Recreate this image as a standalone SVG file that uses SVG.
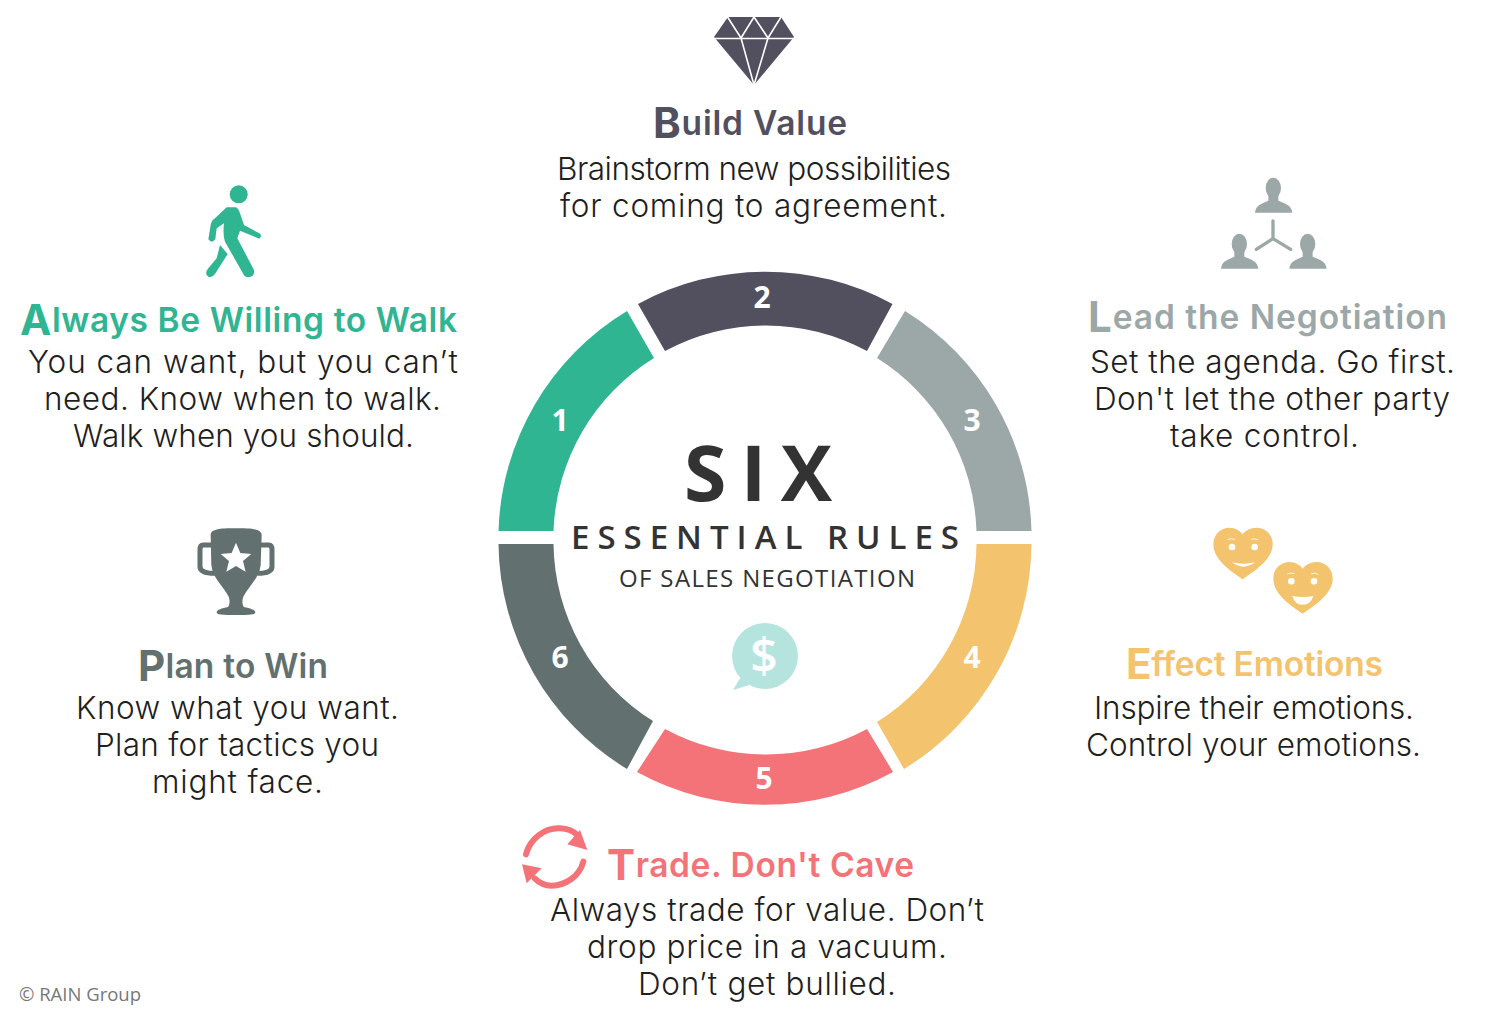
<svg xmlns="http://www.w3.org/2000/svg" width="1500" height="1020" viewBox="0 0 1500 1020">
<style>
text{font-family:"Inter","Liberation Sans",sans-serif}
.b{font-size:31.500px;font-weight:300;fill:#1f1f1f}
.h{font-size:33.500px;font-weight:600}
.h .i{font-size:42px;font-weight:700}
.t{font-family:"Open Sans","Liberation Sans",sans-serif;fill:#333}
.n{font-family:"Open Sans","Liberation Sans",sans-serif;font-size:30px;font-weight:700;fill:#fff;text-anchor:middle}
.green{fill:#2fb592}.dark{fill:#52505f}.gray{fill:#9ca8a8}.yellow{fill:#f4c36d}.red{fill:#f47378}.slate{fill:#62716f}
</style>
<rect width="1500" height="1020" fill="#fff"/>
<g id="ring">
<path class="green" d="M498.5 531A266.500 266.500 0 0 1 627 311L654 358A212 212 0 0 0 553.500 531Z"/>
<path class="dark" d="M638 304A266.500 266.500 0 0 1 892.500 304L867 351A212 212 0 0 0 665 351Z"/>
<path class="gray" d="M905 311A266.500 266.500 0 0 1 1031.500 531L976.500 531A212 212 0 0 0 877 358Z"/>
<path class="yellow" d="M1031.500 544A266.500 266.500 0 0 1 904 769L877 722A212 212 0 0 0 976.500 544Z"/>
<path class="red" d="M893 772A266.500 266.500 0 0 1 637 772L665 729A212 212 0 0 0 867 729Z"/>
<path class="slate" d="M498.500 544A266.500 266.500 0 0 0 627 769L653 721A212 212 0 0 1 553.500 544Z"/>
<text class="n" x="560" y="431">1</text>
<text class="n" x="762" y="308">2</text>
<text class="n" x="972" y="431">3</text>
<text class="n" x="972" y="668">4</text>
<text class="n" x="764" y="789">5</text>
<text class="n" x="560" y="668">6</text>
</g>
<g id="center">
<text class="t" x="684" y="501" font-size="77" font-weight="700" textLength="148" lengthAdjust="spacing">SIX</text>
<text class="t" x="571" y="549" font-size="33" font-weight="600" textLength="388" lengthAdjust="spacing">ESSENTIAL RULES</text>
<text class="t" x="619" y="587" font-size="24" textLength="296" lengthAdjust="spacing">OF SALES NEGOTIATION</text>
<circle cx="765" cy="656" r="33" fill="#b5e4df"/>
<path d="M742 675L733 690L756 683Z" fill="#b5e4df"/>
<text x="764" y="673" font-size="48" font-weight="600" fill="#fff" text-anchor="middle" style="font-family:'Open Sans',sans-serif">$</text>
</g>
<g id="node-build-value">
<path class="dark" d="M728 17H781L794 37L754 85L714 37Z"/>
<path d="M714 38.500H794M741 38L727.500 17M741 38L754 17M768 38L754 17M768 38L781 17M741 38L754 85M768 38L754 85" stroke="#fff" stroke-width="1.600" fill="none"/>
<text class="h dark" x="653" y="135" textLength="194" lengthAdjust="spacing"><tspan class="i" dy="3">B</tspan><tspan dy="-3">uild Value</tspan></text>
<text class="b" x="557" y="180" textLength="394" lengthAdjust="spacing">Brainstorm new possibilities</text>
<text class="b" x="560" y="217" textLength="387" lengthAdjust="spacing">for coming to agreement.</text>
</g>
<g id="node-walk">
<circle class="green" cx="238.700" cy="194.300" r="9"/>
<g class="green" transform="translate(180 170) scale(.3333)">
<path d="M140 112L168 112Q175 115 180 130L192 165L238 190Q248 198 238 206L180 182L172 205L222 300Q225 320 205 322Q195 322 190 312L135 215Q128 195 132 160L110 175L106 208Q95 222 85 208L93 160Q95 150 105 145Z"/>
<path d="M120 225L143 252L105 312Q90 330 80 315Q76 305 85 295L110 265Z"/>
</g>
<text class="h green" x="20" y="332" textLength="437" lengthAdjust="spacing"><tspan class="i" dy="3">A</tspan><tspan dy="-3">lways Be Willing to Walk</tspan></text>
<text class="b" x="28" y="373" textLength="430" lengthAdjust="spacing">You can want, but you can’t</text>
<text class="b" x="44" y="410" textLength="397" lengthAdjust="spacing">need. Know when to walk.</text>
<text class="b" x="73" y="447" textLength="341" lengthAdjust="spacing">Walk when you should.</text>
</g>
<g id="node-lead">
<g transform="translate(1200 170) scale(.3333)">
<g><ellipse cx="220" cy="54" rx="23" ry="31" class="gray"/><path class="gray" d="M205 75H235V92C255 100 275 105 277 128H165C167 105 187 100 205 92Z"/></g>
<g transform="translate(-102 168)"><ellipse cx="220" cy="54" rx="23" ry="31" class="gray"/><path class="gray" d="M205 75H235V92C255 100 275 105 277 128H165C167 105 187 100 205 92Z"/></g>
<g transform="translate(103 168)"><ellipse cx="220" cy="54" rx="23" ry="31" class="gray"/><path class="gray" d="M205 75H235V92C255 100 275 105 277 128H165C167 105 187 100 205 92Z"/></g>
<path d="M219 153V206M219 206L169 238M219 206L272 238" stroke="#9ca8a8" stroke-width="10" stroke-linecap="round" fill="none"/>
</g>
<text class="h gray" x="1088" y="329" textLength="359" lengthAdjust="spacing"><tspan class="i" dy="3">L</tspan><tspan dy="-3">ead the Negotiation</tspan></text>
<text class="b" x="1090" y="373" textLength="365" lengthAdjust="spacing">Set the agenda. Go first.</text>
<text class="b" x="1094" y="410" textLength="356" lengthAdjust="spacing">Don't let the other party</text>
<text class="b" x="1170" y="447" textLength="189" lengthAdjust="spacing">take control.</text>
</g>
<g id="node-emotions">
<g transform="translate(1200 515) scale(.3333)">
<path class="yellow" d="M128 193C95 170 40 135 40 88C40 58 62 38 88 38C106 38 120 47 128 58C136 47 150 38 170 38C196 38 218 58 218 88C218 135 160 170 128 193Z"/>
<circle cx="96" cy="96" r="10" fill="#fff"/><circle cx="164" cy="96" r="10" fill="#fff"/>
<path d="M82 74Q92 69 104 73M154 73Q164 69 175 75" stroke="#fff" stroke-width="2.500" fill="none"/>
<path d="M96 142Q130 150 165 142Q130 168 96 142Z" fill="#fff"/>
<g transform="translate(180 103)">
<path class="yellow" d="M128 193C95 170 40 135 40 88C40 58 62 38 88 38C106 38 120 47 128 58C136 47 150 38 170 38C196 38 218 58 218 88C218 135 160 170 128 193Z"/>
<circle cx="94" cy="96" r="10" fill="#fff"/><circle cx="162" cy="96" r="10" fill="#fff"/>
<path d="M82 74Q92 69 104 73M154 73Q164 69 175 75" stroke="#fff" stroke-width="2.500" fill="none"/>
<path d="M97 140Q128 146 160 140Q152 166 128 166Q104 166 97 140Z" fill="#fff"/>
</g>
</g>
<text class="h yellow" x="1126" y="676" textLength="257" lengthAdjust="spacing"><tspan class="i" dy="3">E</tspan><tspan dy="-3">ffect Emotions</tspan></text>
<text class="b" x="1094" y="719" textLength="320" lengthAdjust="spacing">Inspire their emotions.</text>
<text class="b" x="1086" y="756" textLength="335" lengthAdjust="spacing">Control your emotions.</text>
</g>
<g id="node-trade">
<g transform="translate(510 815) scale(.3333)">
<path d="M48 118C60 70 105 38 150 40C170 41 190 48 204 62" fill="none" stroke="#f47378" stroke-width="18" stroke-linecap="round"/>
<path class="red" d="M210 45L232 105L172 88Z"/>
<path d="M220 140C208 185 165 212 125 212C105 212 88 204 74 190" fill="none" stroke="#f47378" stroke-width="18" stroke-linecap="round"/>
<path class="red" d="M36 148L95 160L50 205Z"/>
</g>
<text class="h red" x="607" y="877" textLength="307" lengthAdjust="spacing"><tspan class="i" dy="3">T</tspan><tspan dy="-3">rade. Don't Cave</tspan></text>
<text class="b" x="550" y="921" textLength="434" lengthAdjust="spacing">Always trade for value. Don’t</text>
<text class="b" x="587" y="958" textLength="360" lengthAdjust="spacing">drop price in a vacuum.</text>
<text class="b" x="638" y="995" textLength="258" lengthAdjust="spacing">Don’t get bullied.</text>
</g>
<g id="node-plan">
<g transform="translate(180 515) scale(.3333)">
<path class="slate" d="M92 60C92 40 130 40 168 40C206 40 245 40 245 60L242 150C238 190 205 215 190 245C186 256 186 268 192 276C210 280 226 284 226 292C226 300 210 300 168 300C126 300 110 300 110 292C110 284 126 280 144 276C150 268 150 256 146 245C131 215 98 190 94 150Z"/>
<path d="M95 90H70C62 90 60 96 60 104V155C60 170 75 175 105 175M243 90H266C274 90 276 96 276 104V155C276 170 261 175 232 175" fill="none" stroke="#62716f" stroke-width="15"/>
<path fill="#fff" d="M168 83L181 114L214 117L189 138L197 170L168 153L139 170L147 138L122 117L155 114Z"/>
</g>
<text class="h slate" x="138" y="678" textLength="190" lengthAdjust="spacing"><tspan class="i" dy="3">P</tspan><tspan dy="-3">lan to Win</tspan></text>
<text class="b" x="76" y="719" textLength="323" lengthAdjust="spacing">Know what you want.</text>
<text class="b" x="95" y="756" textLength="284" lengthAdjust="spacing">Plan for tactics you</text>
<text class="b" x="152" y="793" textLength="171" lengthAdjust="spacing">might face.</text>
</g>
<text id="credit" x="19" y="1001" font-size="18.500" fill="#777" textLength="122" lengthAdjust="spacing" style="font-family:'Open Sans',sans-serif">© RAIN Group</text>
</svg>
